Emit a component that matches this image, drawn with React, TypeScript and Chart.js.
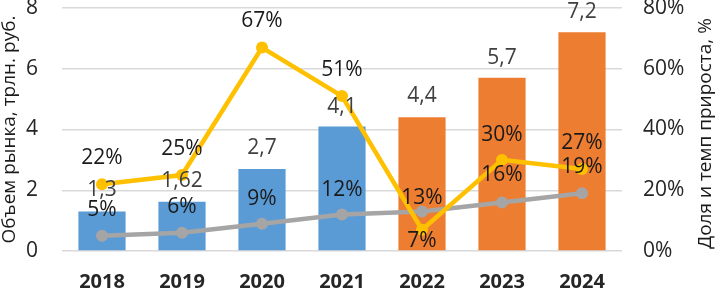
import React, { useEffect, useRef } from 'react';
import { Chart, registerables } from 'chart.js';

Chart.register(...registerables);

const years = ['2018', '2019', '2020', '2021', '2022', '2023', '2024'];
const marketVolume = [1.3, 1.62, 2.7, 4.1, 4.4, 5.7, 7.2];
const growthRate = [0.22, 0.25, 0.67, 0.51, 0.07, 0.30, 0.27];
const marketShare = [0.05, 0.06, 0.09, 0.12, 0.13, 0.16, 0.19];
const barColors = ['#5B9BD5', '#5B9BD5', '#5B9BD5', '#5B9BD5', '#ED7D31', '#ED7D31', '#ED7D31'];

const leftTitle = 'Объем рынка, трлн. руб.';
const rightTitle = 'Доля и темп прироста, %';

// label placement offsets (px, relative to the mark)
const barLabelOffsets = [-21, -21, -21, -19, -21, -20, -20];
const growthLabelOffsets = [-26, -26, -26, -26, 11, -25, -26];
const shareLabelOffsets = [-26, -26, -25, -25, -13, -27, -26];

const FONT = '"Open Sans", "Noto Sans", sans-serif';

const fmtComma = (v: number) => String(v).replace('.', ',');
const fmtPct = (v: number) => Math.round(v * 100) + '%';

const labelPlugin = {
  id: 'valueLabels',
  afterDatasetsDraw(chart: any) {
    const ctx = chart.ctx;
    const order = [0, 2, 1];
    order.forEach((i) => {
      const ds: any = chart.data.datasets[i];
      const cfg = ds.valueLabels;
      if (!cfg) return;
      const meta = chart.getDatasetMeta(i);
      meta.data.forEach((el: any, j: number) => {
        const { x, y } = el.getProps(['x', 'y'], true);
        ctx.save();
        ctx.font = `${cfg.size}px ${FONT}`;
        ctx.fillStyle = cfg.color;
        ctx.textAlign = 'center';
        ctx.textBaseline = 'middle';
        ctx.fillText(cfg.format(ds.data[j]), x, y + cfg.offsets[j]);
        ctx.restore();
      });
    });
  },
};

// right axis title, reading bottom-to-top like the reference
const rightTitlePlugin = {
  id: 'rightTitle',
  afterDraw(chart: any) {
    const ctx = chart.ctx;
    const s = chart.scales.y1;
    const cy = (chart.chartArea.top + chart.chartArea.bottom) / 2 + 4;
    ctx.save();
    ctx.translate(s.right - 9, cy);
    ctx.rotate(-Math.PI / 2);
    ctx.font = `19px ${FONT}`;
    ctx.fillStyle = '#1a1a1a';
    ctx.textAlign = 'center';
    ctx.textBaseline = 'middle';
    ctx.fillText(rightTitle, 0, 0);
    ctx.restore();
  },
};

const noPad = (s: any) => {
  s.paddingTop = 0;
  s.paddingBottom = 0;
  s.paddingLeft = 0;
  s.paddingRight = 0;
};

export default function App() {
  const ref = useRef<HTMLCanvasElement>(null);

  useEffect(() => {
    document.body.style.margin = '0';
    const canvas = ref.current;
    if (!canvas) return;
    const chart = new Chart(canvas, {
      type: 'bar',
      data: {
        labels: years,
        datasets: [
          {
            type: 'bar',
            label: 'Объем рынка',
            data: marketVolume,
            backgroundColor: barColors,
            yAxisID: 'y',
            order: 3,
            categoryPercentage: 1,
            barPercentage: 0.59,
            valueLabels: { format: fmtComma, offsets: barLabelOffsets, color: '#404040', size: 21 },
          } as any,
          {
            type: 'line',
            label: 'Темп прироста',
            data: growthRate,
            borderColor: '#FFC000',
            backgroundColor: '#FFC000',
            borderWidth: 4.5,
            pointRadius: 6,
            pointBorderWidth: 0,
            pointBackgroundColor: '#FFC000',
            yAxisID: 'y1',
            order: 1,
            tension: 0,
            valueLabels: { format: fmtPct, offsets: growthLabelOffsets, color: '#1a1a1a', size: 21 },
          } as any,
          {
            type: 'line',
            label: 'Доля',
            data: marketShare,
            borderColor: '#A5A5A5',
            backgroundColor: '#A5A5A5',
            borderWidth: 4.5,
            pointRadius: 6,
            pointBorderWidth: 0,
            pointBackgroundColor: '#A5A5A5',
            yAxisID: 'y1',
            order: 2,
            tension: 0,
            valueLabels: { format: fmtPct, offsets: shareLabelOffsets, color: '#1a1a1a', size: 21 },
          } as any,
        ],
      },
      options: {
        animation: false,
        responsive: false,
        maintainAspectRatio: false,
        layout: { padding: { top: 8, left: 0, right: 0, bottom: 0 } },
        plugins: {
          legend: { display: false },
          tooltip: { enabled: false },
        },
        scales: {
          x: {
            grid: { display: false },
            border: { display: false },
            ticks: {
              color: '#262626',
              font: { family: FONT, size: 20, weight: 'bold' },
              padding: 11,
            },
            afterFit: (s: any) => { s.height = 38; noPad(s); },
          },
          y: {
            position: 'left',
            min: 0,
            max: 8,
            ticks: {
              stepSize: 2,
              color: '#262626',
              font: { family: FONT, size: 21 },
              padding: 24,
            },
            grid: { color: '#D9D9D9', lineWidth: 1.5, drawTicks: false },
            border: { display: false },
            title: {
              display: true,
              text: leftTitle,
              color: '#1a1a1a',
              font: { family: FONT, size: 19, lineHeight: 1 },
              padding: 0,
            },
            afterFit: (s: any) => { s.width = 62; noPad(s); },
          },
          y1: {
            position: 'right',
            min: 0,
            max: 0.8,
            ticks: {
              stepSize: 0.2,
              color: '#262626',
              font: { family: FONT, size: 21 },
              padding: 21,
              callback: (v: any) => Math.round(Number(v) * 100) + '%',
            },
            grid: { display: false, drawTicks: false },
            border: { display: false },
            title: { display: false },
            afterFit: (s: any) => { s.width = 93; noPad(s); },
          },
        },
      } as any,
      plugins: [labelPlugin, rightTitlePlugin],
    });
    return () => chart.destroy();
  }, []);

  return (
    <div style={{ position: 'fixed', left: 0, top: 0, width: 715, height: 289, background: '#fff' }}>
      <canvas ref={ref} width={715} height={289} style={{ width: 715, height: 289 }} />
    </div>
  );
}
